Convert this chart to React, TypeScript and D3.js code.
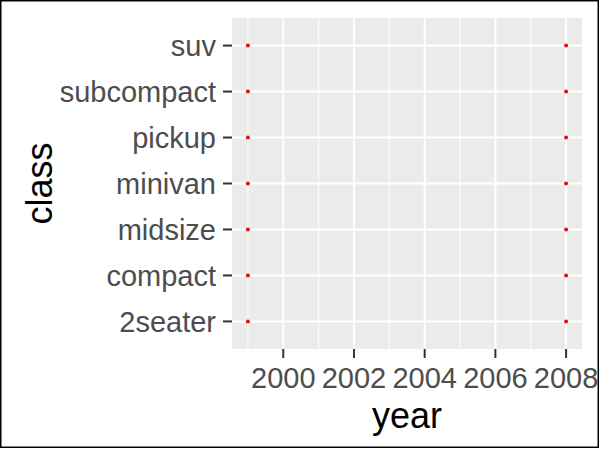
import React from "react";
import * as d3 from "d3";

const classes = ["2seater", "compact", "midsize", "minivan", "pickup", "subcompact", "suv"];
const years = [1999, 2008];
const pointClass = [
  "2seater", "compact", "midsize", "minivan", "pickup", "subcompact", "suv",
  "2seater", "compact", "midsize", "minivan", "pickup", "subcompact", "suv",
];
const pointYear = [1999, 1999, 1999, 1999, 1999, 1999, 1999, 2008, 2008, 2008, 2008, 2008, 2008, 2008];
const majorTicks = [2000, 2002, 2004, 2006, 2008];
const minorTicks = [1999, 2001, 2003, 2005, 2007];

const W = 600;
const H = 449;
const panel = { left: 232, right: 582, top: 18, bottom: 349 };
const FONT = "'Liberation Sans', Arial, Helvetica, sans-serif";

export default function App() {
  const [y0, y1] = d3.extent(years) as [number, number];
  const pad = (y1 - y0) * 0.05;
  const x = d3.scaleLinear().domain([y0 - pad, y1 + pad]).range([panel.left, panel.right]);
  const y = d3.scalePoint<string>().domain(classes).range([panel.bottom, panel.top]).padding(0.6);

  return (
    <div style={{ position: "fixed", left: 0, top: 0 }}>
      <svg width={W} height={H} style={{ display: "block" }}>
        <rect x={0} y={0} width={W} height={H} fill="#fff" />
        <rect x={0.75} y={0.75} width={597.5} height={446.5} fill="none" stroke="#000" strokeWidth={1.5} />
        <rect
          x={panel.left}
          y={panel.top}
          width={panel.right - panel.left}
          height={panel.bottom - panel.top}
          fill="#EBEBEB"
        />
        {minorTicks.map((t) => (
          <line key={"mn" + t} x1={x(t)} x2={x(t)} y1={panel.top} y2={panel.bottom} stroke="#fff" strokeWidth={1} />
        ))}
        {majorTicks.map((t) => (
          <line key={"mj" + t} x1={x(t)} x2={x(t)} y1={panel.top} y2={panel.bottom} stroke="#fff" strokeWidth={2} />
        ))}
        {classes.map((c) => (
          <line key={"hg" + c} x1={panel.left} x2={panel.right} y1={y(c)} y2={y(c)} stroke="#fff" strokeWidth={2} />
        ))}
        {pointClass.map((c, i) => (
          <circle key={"p" + i} cx={x(pointYear[i])} cy={y(c)} r={2} fill="#E01010" />
        ))}
        {classes.map((c) => (
          <g key={"yt" + c}>
            <line x1={panel.left - 9} x2={panel.left} y1={y(c)} y2={y(c)} stroke="#333" strokeWidth={2} />
            <text
              x={panel.left - 16}
              y={y(c)}
              dy="0.35em"
              textAnchor="end"
              fontFamily={FONT}
              fontSize={29}
              fill="#4D4D4D"
            >
              {c}
            </text>
          </g>
        ))}
        {majorTicks.map((t) => (
          <g key={"xt" + t}>
            <line x1={x(t)} x2={x(t)} y1={panel.bottom} y2={panel.bottom + 9} stroke="#333" strokeWidth={2} />
            <text
              x={x(t)}
              y={panel.bottom + 39}
              textAnchor="middle"
              fontFamily={FONT}
              fontSize={29}
              fill="#4D4D4D"
            >
              {t}
            </text>
          </g>
        ))}
        <text
          x={(panel.left + panel.right) / 2}
          y={428}
          textAnchor="middle"
          fontFamily={FONT}
          fontSize={36}
          fill="#000"
        >
          year
        </text>
        <text
          transform={`translate(52,${(panel.top + panel.bottom) / 2}) rotate(-90)`}
          textAnchor="middle"
          fontFamily={FONT}
          fontSize={36}
          fill="#000"
        >
          class
        </text>
      </svg>
    </div>
  );
}
